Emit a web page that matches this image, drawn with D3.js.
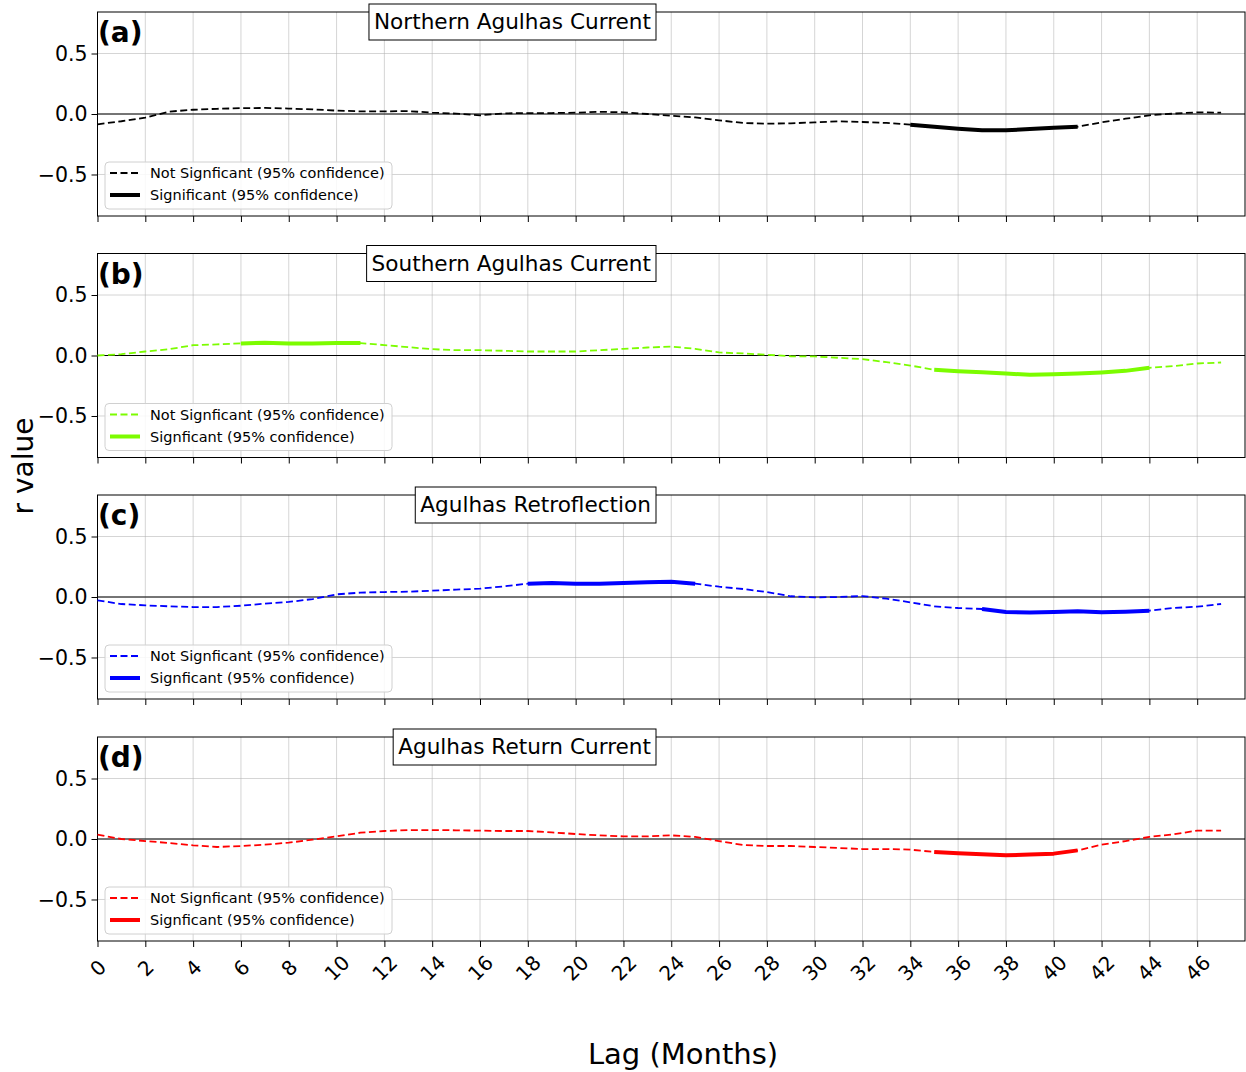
<!DOCTYPE html>
<html>
<head>
<meta charset="utf-8">
<script src="https://cdn.jsdelivr.net/npm/d3@7"></script>
<style>
  body { margin: 0; background: #fff; }
  svg { display: block; font-family: "DejaVu Sans", sans-serif; }
</style>
</head>
<body>
<svg id="chart" width="1246" height="1072"></svg>
<script>
// ---------- data ----------
const lags = [0,1,2,3,4,5,6,7,8,9,10,11,12,13,14,15,16,17,18,19,20,21,22,23,24,25,26,27,28,29,30,31,32,33,34,35,36,37,38,39,40,41,42,43,44,45,46,47];
const xTicks = [0,2,4,6,8,10,12,14,16,18,20,22,24,26,28,30,32,34,36,38,40,42,44,46];
const yTicks = [-0.5, 0.0, 0.5];

const northernValues = [-0.085,-0.06,-0.03,0.02,0.035,0.043,0.048,0.05,0.045,0.038,0.028,0.022,0.022,0.024,0.011,0.003,-0.011,0.005,0.008,0.008,0.011,0.018,0.014,0.0,-0.014,-0.028,-0.052,-0.074,-0.08,-0.077,-0.069,-0.061,-0.066,-0.074,-0.088,-0.105,-0.121,-0.135,-0.135,-0.124,-0.113,-0.105,-0.069,-0.039,-0.011,0.003,0.014,0.011];
const southernValues = [0.0,0.011,0.033,0.052,0.085,0.092,0.1,0.105,0.1,0.1,0.103,0.103,0.086,0.069,0.052,0.044,0.044,0.039,0.033,0.033,0.033,0.044,0.055,0.066,0.074,0.055,0.025,0.017,0.006,-0.006,-0.008,-0.019,-0.03,-0.055,-0.083,-0.118,-0.13,-0.138,-0.149,-0.16,-0.154,-0.149,-0.14,-0.127,-0.102,-0.088,-0.066,-0.058];
const retroValues = [-0.028,-0.058,-0.069,-0.077,-0.083,-0.083,-0.072,-0.055,-0.041,-0.017,0.022,0.036,0.041,0.044,0.052,0.061,0.069,0.088,0.11,0.116,0.11,0.11,0.116,0.121,0.127,0.11,0.085,0.066,0.041,0.006,-0.003,0.0,0.008,-0.014,-0.044,-0.077,-0.091,-0.099,-0.124,-0.129,-0.124,-0.118,-0.127,-0.121,-0.113,-0.091,-0.08,-0.058];
const returnValues = [0.036,0.0,-0.017,-0.033,-0.052,-0.066,-0.058,-0.047,-0.03,-0.006,0.022,0.052,0.066,0.074,0.074,0.072,0.069,0.066,0.066,0.055,0.041,0.03,0.022,0.022,0.03,0.017,-0.017,-0.05,-0.058,-0.058,-0.066,-0.074,-0.083,-0.083,-0.088,-0.107,-0.118,-0.127,-0.135,-0.129,-0.121,-0.094,-0.047,-0.017,0.017,0.039,0.069,0.069];

const panelTitles = ["Northern Agulhas Current", "Southern Agulhas Current", "Agulhas Retroflection", "Agulhas Return Current"];
const panelLetters = ["(a)", "(b)", "(c)", "(d)"];
const panelColors = ["#000000", "#7CFC00", "#0000FF", "#FF0000"];
const sigRanges = [[34, 41], [6, 11], [18, 25], [35, 41]];
const sigRangesB = [null, [35, 44], [37, 44], null];
const legendNotSig = ["Not Signficant (95% confidence)", "Not Signficant (95% confidence)", "Not Signficant (95% confidence)", "Not Signficant (95% confidence)"];
const legendSig = ["Significant (95% confidence)", "Signficant (95% confidence)", "Signficant (95% confidence)", "Signficant (95% confidence)"];
const seriesList = [northernValues, southernValues, retroValues, returnValues];

// ---------- layout ----------
const svg = d3.select("#chart");
const left = 97.5, right = 1245;
const panelTops = [12, 253.5, 495, 737];
const panelH = 204;

const x = d3.scaleLinear().domain([0, 48]).range([left, right]);
const fmtY = d => d === 0 ? "0.0" : d3.format(".1f")(d).replace("-", "\u2212");

seriesList.forEach((vals, i) => {
  const top = panelTops[i];
  const y = d3.scaleLinear().domain([-0.843, 0.843]).range([top + panelH, top]);
  const g = svg.append("g");

  // grid
  g.append("g").selectAll("line.vg").data(xTicks).join("line")
    .attr("x1", d => x(d)).attr("x2", d => x(d))
    .attr("y1", top).attr("y2", top + panelH)
    .attr("stroke", "#b0b0b0").attr("stroke-opacity", 0.6).attr("stroke-width", 0.9);
  g.append("g").selectAll("line.hg").data(yTicks).join("line")
    .attr("x1", left).attr("x2", right)
    .attr("y1", d => y(d)).attr("y2", d => y(d))
    .attr("stroke", "#b0b0b0").attr("stroke-opacity", 0.6).attr("stroke-width", 0.9);

  // zero line
  g.append("line").attr("x1", left).attr("x2", right)
    .attr("y1", y(0)).attr("y2", y(0))
    .attr("stroke", "#000").attr("stroke-width", 1);

  // axes
  const yAxis = d3.axisLeft(y).tickValues(yTicks).tickFormat(fmtY).tickSize(6).tickPadding(4);
  const ya = g.append("g").attr("transform", `translate(${left},0)`).call(yAxis);
  ya.select(".domain").remove();
  ya.selectAll("text").attr("font-size", "20.5px").attr("fill", "#000").attr("font-family", "DejaVu Sans");
  ya.selectAll("line").attr("stroke", "#000").attr("stroke-width", 1);

  const xAxis = d3.axisBottom(x).tickValues(xTicks).tickSize(6).tickFormat(i === 3 ? d3.format("d") : "");
  const xa = g.append("g").attr("transform", `translate(0,${top + panelH})`).call(xAxis);
  xa.select(".domain").remove();
  xa.selectAll("line").attr("stroke", "#000").attr("stroke-width", 1);
  if (i === 3) {
    xa.selectAll("text")
      .attr("font-size", "20px").attr("fill", "#000").attr("font-family", "DejaVu Sans")
      .attr("text-anchor", "middle").attr("dy", null).attr("y", null)
      .attr("dominant-baseline", "central")
      .attr("transform", "translate(0,27) rotate(-45)");
  }

  // frame
  g.append("rect").attr("x", left).attr("y", top).attr("width", right - left).attr("height", panelH)
    .attr("fill", "none").attr("stroke", "#000").attr("stroke-width", 1);

  const color = panelColors[i];
  const line = d3.line().x(d => x(d[0])).y(d => y(d[1])).curve(d3.curveLinear);
  const pts = lags.map((l, k) => [l, vals[k]]);

  g.append("path").attr("d", line(pts)).attr("fill", "none")
    .attr("stroke", color).attr("stroke-width", 1.8).attr("stroke-dasharray", "7,3.5");

  [sigRanges[i], sigRangesB[i]].forEach(r => {
    if (!r) return;
    const seg = pts.filter(p => p[0] >= r[0] && p[0] <= r[1]);
    g.append("path").attr("d", line(seg)).attr("fill", "none")
      .attr("stroke", color).attr("stroke-width", 4).attr("stroke-linejoin", "round");
  });

  // legend
  const lg = g.append("g").attr("transform", `translate(105,${top + 150})`);
  lg.append("rect").attr("width", 287).attr("height", 47).attr("rx", 4)
    .attr("fill", "#fff").attr("fill-opacity", 0.85).attr("stroke", "#d0d0d0").attr("stroke-width", 1);
  lg.append("line").attr("x1", 5).attr("x2", 35).attr("y1", 11).attr("y2", 11)
    .attr("stroke", color).attr("stroke-width", 1.8).attr("stroke-dasharray", "7,3.5");
  lg.append("line").attr("x1", 5).attr("x2", 35).attr("y1", 33).attr("y2", 33)
    .attr("stroke", color).attr("stroke-width", 4);
  lg.append("text").attr("x", 45).attr("y", 16).attr("font-size", "14.5px").text(legendNotSig[i]);
  lg.append("text").attr("x", 45).attr("y", 38).attr("font-size", "14.5px").text(legendSig[i]);

  // title box (right-aligned at 656)
  const tg = g.append("g");
  const tt = tg.append("text").attr("font-size", "21.6px").attr("text-anchor", "end")
    .attr("x", 651).attr("y", top + 17).text(panelTitles[i]);
  const tw = tt.node().getComputedTextLength();
  tg.insert("rect", "text").attr("x", 651 - tw - 5).attr("y", top - 8)
    .attr("width", tw + 10).attr("height", 36)
    .attr("fill", "#fff").attr("stroke", "#000").attr("stroke-width", 1);

  // panel letter
  g.append("text").attr("x", 98).attr("y", top + 30).attr("font-size", "28px")
    .attr("font-weight", "bold").text(panelLetters[i]);
});

// axis labels
svg.append("text").attr("x", 683).attr("y", 1064).attr("text-anchor", "middle")
  .attr("font-size", "29px").text("Lag (Months)");
svg.append("text").attr("transform", "translate(33,466) rotate(-90)").attr("text-anchor", "middle")
  .attr("font-size", "28px").text("r value");
</script>
</body>
</html>
